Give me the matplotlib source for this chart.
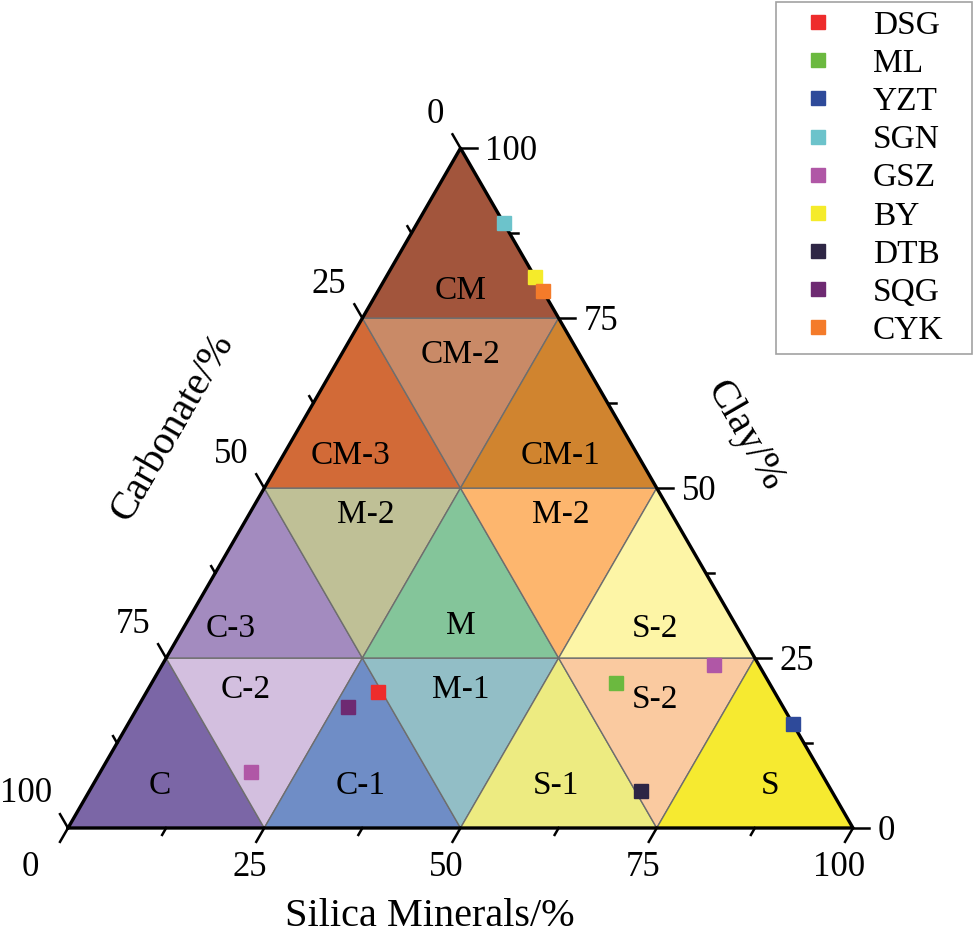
import numpy as np
import matplotlib.pyplot as plt
from matplotlib.patches import Polygon
from matplotlib.lines import Line2D

plt.rcParams['font.family'] = ['Liberation Serif', 'DejaVu Serif']

# sample groups: silica, clay, carbonate in %
groups = ["DSG", "ML", "YZT", "SGN", "GSZ", "BY", "DTB", "SQG", "CYK"]
group_colors = ["#ee2c2c", "#6bb93f", "#2e4a9a", "#6cc3cb", "#b057a6",
                "#f5eb2a", "#2e2645", "#6e2a72", "#f47b2a"]
silica = [[29.5], [59.2], [84.7], [11.0], [70.3, 19.2], [19.0], [70.3], [26.8], [21.0]]
clay = [[20.0], [21.3], [15.3], [89.0], [24.0, 8.2], [81.0], [5.5], [17.8], [79.0]]
carbonate = [[100 - s - c for s, c in zip(ss, cc)] for ss, cc in zip(silica, clay)]

# 16 sub-triangles: (row from bottom, "up"/"down", column), name, colour
regions = [
    ((0, "up", 0), "C", "#7b66a6"),
    ((0, "down", 0), "C-2", "#d3bfdf"),
    ((0, "up", 1), "C-1", "#6f8dc6"),
    ((0, "down", 1), "M-1", "#92bec6"),
    ((0, "up", 2), "S-1", "#edeb81"),
    ((0, "down", 2), "S-2", "#facaa0"),
    ((0, "up", 3), "S", "#f6ea30"),
    ((1, "up", 0), "C-3", "#a38bbf"),
    ((1, "down", 0), "M-2", "#bfc096"),
    ((1, "up", 1), "M", "#84c59a"),
    ((1, "down", 1), "M-2", "#fdb66e"),
    ((1, "up", 2), "S-2", "#fdf5a6"),
    ((2, "up", 0), "CM-3", "#d26a37"),
    ((2, "down", 0), "CM-2", "#c98a67"),
    ((2, "up", 1), "CM-1", "#d0842f"),
    ((3, "up", 0), "CM", "#a2553c"),
]
# label offset from triangle centroid, in pixels (right, down)
label_shift = [(-6, 14), (-19, -25), (-2, 14), (0, -25), (-3, 14), (-2, -15), (15, 14),
               (-34, 27), (3, -30), (0, 24), (2, -30), (-2, 27),
               (-12, 24), (0, -20), (2, 24), (0, 29)]

H = np.sqrt(3) / 2
PX = 785.0  # pixels per unit side


def tern(s, c):
    s = np.asarray(s) / 100.0
    c = np.asarray(c) / 100.0
    return s + c / 2, c * H


fig = plt.figure(figsize=(9.75, 9.38), dpi=100)
ax = fig.add_axes([0, 0, 1, 1])
ax.set_xlim(-68 / PX, 907 / PX)
ax.set_ylim(-110 / PX, 828 / PX)
ax.set_aspect("equal")
ax.axis("off")

for ((row, kind, col), name, color), (sx, sy) in zip(regions, label_shift):
    if kind == "up":
        pts = [(col * 25, row * 25), ((col + 1) * 25, row * 25), (col * 25, (row + 1) * 25)]
    else:
        pts = [((col + 1) * 25, row * 25), ((col + 1) * 25, (row + 1) * 25), (col * 25, (row + 1) * 25)]
    xy = np.array([tern(s, c) for s, c in pts])
    ax.add_patch(Polygon(xy, closed=True, facecolor=color, edgecolor="#6e6e6e", lw=1.0, zorder=1))
    cx, cy = xy.mean(axis=0)
    ax.text(cx + sx / PX, cy - sy / PX, name, fontsize=24, ha="center", va="center", zorder=3)

# outer frame
frame = np.array([tern(0, 0), tern(100, 0), tern(0, 100), tern(0, 0)])
ax.plot(frame[:, 0], frame[:, 1], color="black", lw=2.4, zorder=4, solid_capstyle="round")

# ticks
major = [0, 25, 50, 75, 100]
minor = [12.5, 37.5, 62.5, 87.5]
L_maj, L_min = 16 / PX, 8 / PX
dir_bottom = np.array([-0.5, -H])
dir_right = np.array([1.0, 0.0])
dir_left = np.array([-0.5, H])
for v in major + minor:
    L = L_maj if v in major else L_min
    for p, d in [(tern(v, 0), dir_bottom), (tern(100 - v, v), dir_right), (tern(0, 100 - v), dir_left)]:
        p = np.array(p)
        ax.plot([p[0], p[0] + L * d[0]], [p[1], p[1] + L * d[1]], color="black", lw=1.8, zorder=4)

for v in major:
    x, y = tern(v, 0)
    dx = -38 if v == 0 else -14
    ax.text(x + dx / PX, y - 40 / PX, f"{v}", fontsize=25, ha="center", va="center")
    x, y = tern(100 - v, v)
    ax.text(x + 25 / PX, y - 3 / PX, f"{v}", fontsize=25, ha="left", va="center")
    x, y = tern(0, 100 - v)
    ax.text(x - 16 / PX, y + 34 / PX, f"{v}", fontsize=25, ha="right", va="center")

ax.text(362 / PX, -88 / PX, "Silica Minerals/%", fontsize=29, ha="center", va="center")
ax.text(0.133, 0.51, "Carbonate/%", fontsize=29, ha="center", va="center", rotation=60)
ax.text(0.862, 0.5, "Clay/%", fontsize=29, ha="center", va="center", rotation=-60)

for name, col, ss, cc in zip(groups, group_colors, silica, clay):
    x, y = tern(ss, cc)
    ax.plot(x, y, linestyle="none", marker="s", markersize=10, color=col, zorder=5)

handles = [Line2D([], [], linestyle="none", marker="s", markersize=10, color=c, label=g)
           for g, c in zip(groups, group_colors)]
leg = ax.legend(handles=handles, loc="upper left",
                bbox_to_anchor=(776 / 975, 1 - 374 / 938, 196 / 975, 372 / 938),
                bbox_transform=fig.transFigure, mode="expand", fontsize=24, frameon=True,
                fancybox=False, edgecolor="#8a8a8a", borderaxespad=0, labelspacing=0.23,
                handletextpad=0.66, handlelength=2.0, borderpad=0.25)
leg.get_frame().set_linewidth(1.2)

fig.savefig("out.png", dpi=100)
